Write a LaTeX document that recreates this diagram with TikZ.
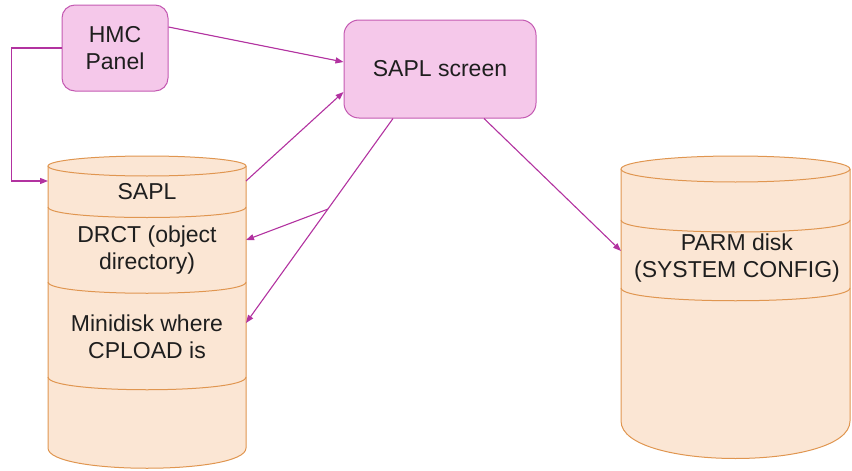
\documentclass[tikz,border=0pt]{standalone}
\usepackage{fontspec}
\setmainfont{Liberation Sans}
\usetikzlibrary{arrows.meta,calc}

\definecolor{boxfill}{RGB}{245,200,234}
\definecolor{boxline}{RGB}{196,90,178}
\definecolor{diskfill}{RGB}{251,230,212}
\definecolor{diskline}{RGB}{224,150,80}
\definecolor{linkcol}{RGB}{178,50,160}
\definecolor{txt}{RGB}{30,30,30}

\tikzset{
  panelbox/.style={draw=boxline, fill=boxfill, line width=1pt, rounded corners=13pt,
    align=center, text=txt, inner sep=0pt},
  disktext/.style={align=center, text=txt, inner sep=0pt},
  diskedge/.style={draw=diskline, line width=1pt},
  link/.style={draw=linkcol, line width=1.1pt, -{Triangle[length=8pt,width=6pt]}},
  linkplain/.style={draw=linkcol, line width=1.1pt},
}

\begin{document}
\begin{tikzpicture}[x=1pt,y=-1pt,font=\fontsize{23}{27}\selectfont]
\useasboundingbox (0,0) rectangle (852,471);

% ---------- left disk stack ----------
\fill[diskfill] (48,166) -- (48,448) .. controls (48,475) and (246,475) .. (246,448) -- (246,166) -- cycle;
\draw[diskedge] (48,166) -- (48,448) .. controls (48,475) and (246,475) .. (246,448) -- (246,166);
\draw[diskedge, fill=diskfill] (147,166) ellipse [x radius=99pt, y radius=10pt];
\draw[diskedge] (48,207) .. controls (48,221) and (246,221) .. (246,207);
\draw[diskedge] (48,282) .. controls (48,297) and (246,297) .. (246,282);
\draw[diskedge] (48,377) .. controls (48,394) and (246,394) .. (246,377);

\node[disktext] (sapl) at (147,192) {SAPL};
\node[disktext] (drct) at (147,250) {DRCT (object\\directory)};
\node[disktext] (mini) at (147,337) {Minidisk where\\CPLOAD is};

\coordinate (lcIn)   at (48,181);
\coordinate (lcOut)  at (246,181);
\coordinate (lcDrct) at (246,240);
\coordinate (lcMini) at (246,323);

% ---------- right disk ----------
\fill[diskfill] (621,169) -- (621,421) .. controls (621,471) and (850,471) .. (850,421) -- (850,169) -- cycle;
\draw[diskedge] (621,169) -- (621,421) .. controls (621,471) and (850,471) .. (850,421) -- (850,169);
\draw[diskedge, fill=diskfill] (735.5,169) ellipse [x radius=114.5pt, y radius=13pt];
\draw[diskedge] (621,220) .. controls (621,236) and (850,236) .. (850,220);
\draw[diskedge] (621,288) .. controls (621,305) and (850,305) .. (850,288);

\node[disktext] (parm) at (737,258) {PARM disk\\(SYSTEM CONFIG)};
\coordinate (rcIn) at (621,251);

% ---------- panels ----------
\node[panelbox, minimum width=106pt, minimum height=86pt] (hmc) at (115,48) {HMC\\Panel};
\node[panelbox, minimum width=192pt, minimum height=98pt, rounded corners=15pt] (scr) at (440,69) {SAPL screen};

% ---------- connectors ----------
\draw[link] ($(hmc.east)+(0,-21)$) -- ($(scr.west)+(0,-7)$);
\draw[link] (hmc.west) -- ++(-50,0) |- (lcIn);
\draw[link] (lcOut) -- ($(scr.west)+(0,23)$);
\draw[link] ($(scr.south)+(-47,0)$) -- (lcMini);
\coordinate (fork) at ($($(scr.south)+(-47,0)$)!0.443!(lcMini)$);
\draw[link] (fork) -- (lcDrct);
\draw[link] ($(scr.south)+(44,0)$) -- (rcIn);
\end{tikzpicture}
\end{document}
